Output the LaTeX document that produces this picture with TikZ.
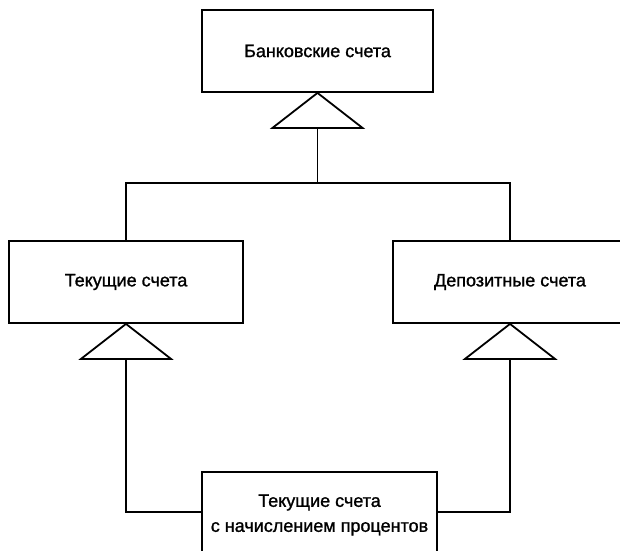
\documentclass[tikz,border=0pt]{standalone}
\usepackage{fontspec}
\setmainfont[FakeBold=1.2]{Liberation Sans}
\usetikzlibrary{calc}
\begin{document}
\begin{tikzpicture}[x=1pt, y=-1pt, line width=1.8pt,
  cls/.style={draw, minimum width=234pt, minimum height=82pt, inner sep=0pt,
    align=center, font=\fontsize{18}{25}\selectfont},
  gen/.style={draw, fill=white, line join=miter}]
\useasboundingbox (0,0) rectangle (620,550);

% classes
\node[cls, minimum width=231pt] (base) at (317.5,51) {Банковские счета};
\node[cls] (cur) at (126,282) {Текущие счета};
\node[cls] (dep) at (510,282) {Депозитные счета};
\node[cls, minimum width=235pt, minimum height=86pt] (sav) at (319.5,515)
  {Текущие счета\\с начислением процентов};

% generalization triangles under each parent class
\foreach \c in {base,cur,dep}{
  \draw[gen] (\c.south) -- ++(-45,35) -- ++(90,0) -- cycle;
  \coordinate (\c foot) at ($(\c.south)+(0,35)$);
}

% bus from the base class to its two subclasses
\coordinate (busL) at (cur.north |- 0,183);
\coordinate (busR) at (dep.north |- 0,183);
\draw (basefoot) -- (basefoot |- busL);
\draw (cur.north) -- (busL) -- (busR) -- (dep.north);

% the combined class inherits from both subclasses
\coordinate (savL) at ($(sav.west)+(0,-3)$);
\coordinate (savR) at ($(sav.east)+(0,-3)$);
\draw (curfoot) |- (savL);
\draw (depfoot) |- (savR);
\end{tikzpicture}
\end{document}
